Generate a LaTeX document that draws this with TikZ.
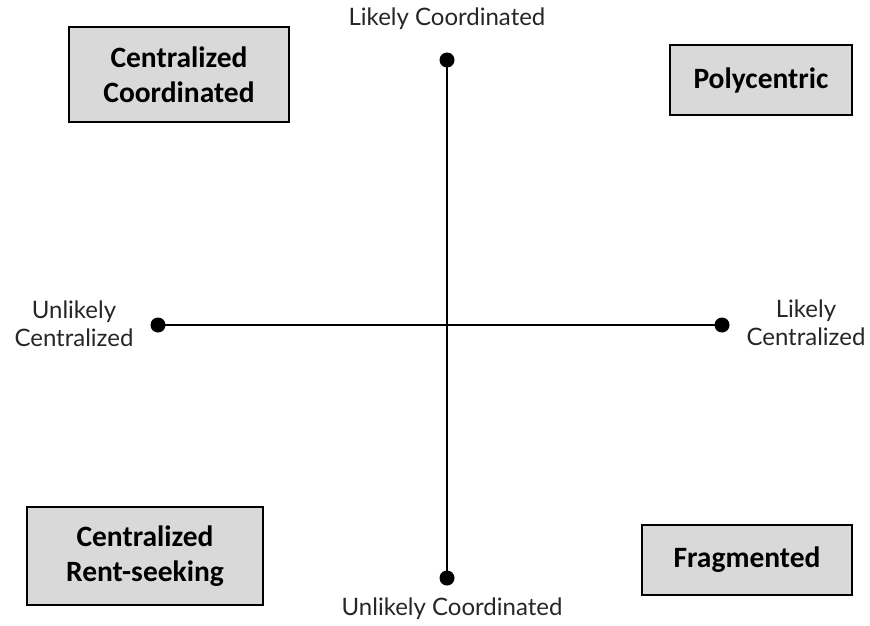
\documentclass[tikz,border=0pt]{standalone}
\usepackage{fontspec}
\setmainfont{Lato}
\newfontfamily\boxfont{Carlito}
\usepackage{tikz}
\usetikzlibrary{calc,positioning}

\begin{document}
\begin{tikzpicture}[
  x=1pt, y=-1pt,
  quadrant/.style={rectangle, draw=black, line width=1.8pt, fill=gray!30, align=center, font=\boxfont\bfseries\fontsize{29.5}{35}\selectfont},
  axis label/.style={align=center, font=\fontsize{24}{28}\selectfont, text=black!85},
  axis end/.style={circle, fill=black, inner sep=0pt, minimum size=15pt},
  axis line/.style={line width=2.6pt}
]
  \useasboundingbox (0,0) rectangle (870,626);
  % quadrant boxes
  \node[quadrant, minimum width=220pt, minimum height=95pt] (CC) at (179, 74.5)  {Centralized\\Coordinated};
  \node[quadrant, minimum width=182pt, minimum height=70pt] (PC) at (761, 80)    {Polycentric};
  \node[quadrant, minimum width=236pt, minimum height=98pt] (CR) at (145, 556)   {Centralized\\Rent-seeking};
  \node[quadrant, minimum width=210pt, minimum height=70pt] (FR) at (747, 560)   {Fragmented};
  % axis ends
  \node[axis end] (top)    at (447, 60)  {};
  \node[axis end] (bottom) at (447, 578) {};
  \node[axis end] (left)   at (158, 325) {};
  \node[axis end] (right)  at (722, 325) {};
  \draw[axis line] (top.center) -- (bottom.center);
  \draw[axis line] (left.center) -- (right.center);
  % axis labels
  \node[axis label] (lc)  at (447, 19)  {Likely Coordinated};
  \node[axis label] (uc)  at (452, 609) {Unlikely Coordinated};
  \node[axis label] (ucz) at (74, 324)  {Unlikely\\Centralized};
  \node[axis label] (lcz) at (806, 323) {Likely\\Centralized};
\end{tikzpicture}
\end{document}
